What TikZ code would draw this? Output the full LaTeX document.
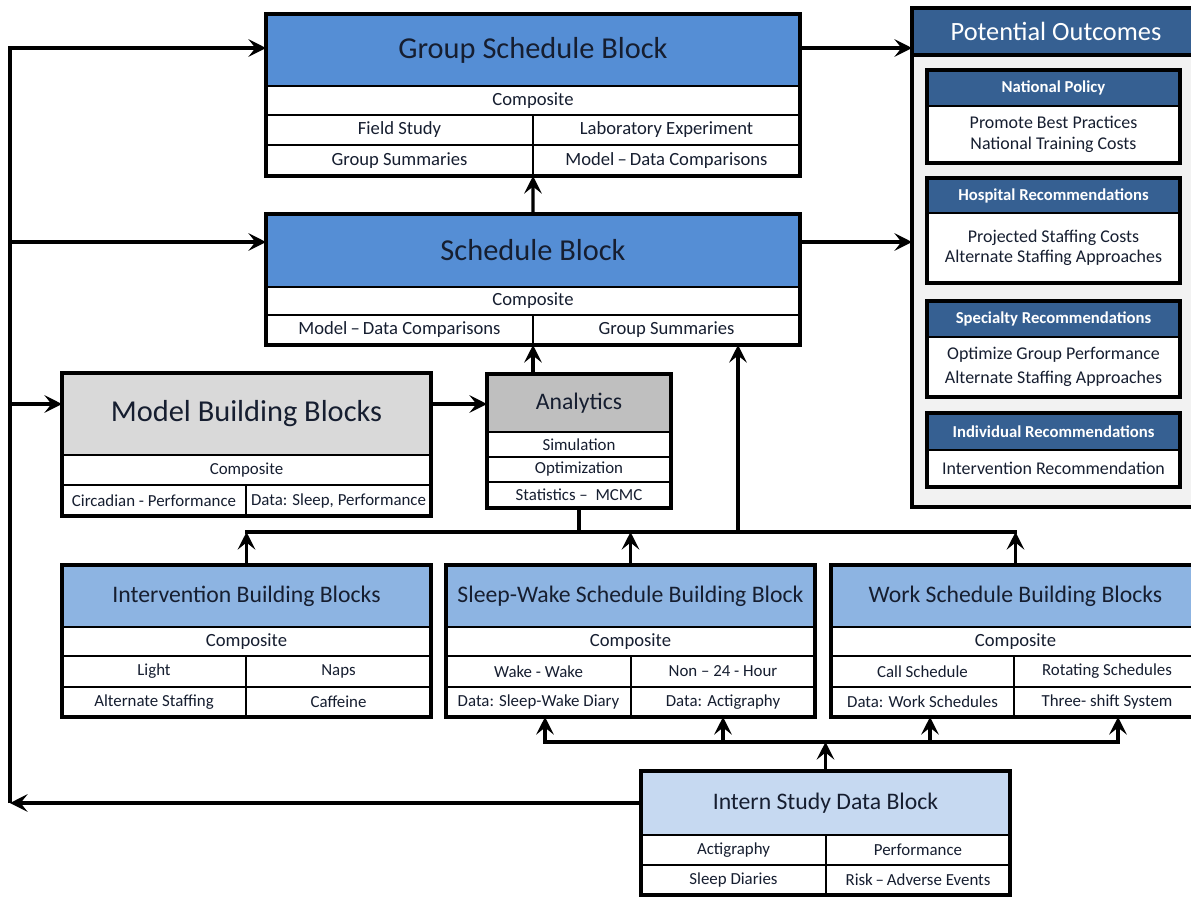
\documentclass[tikz,border=0pt]{standalone}
\usepackage{fontspec}
\setmainfont{Carlito}
\usetikzlibrary{arrows.meta}
\definecolor{blueA}{RGB}{85,142,213}
\definecolor{blueB}{RGB}{141,180,226}
\definecolor{blueC}{RGB}{198,217,241}
\definecolor{grayA}{RGB}{217,217,217}
\definecolor{grayB}{RGB}{191,191,191}
\definecolor{navy}{RGB}{54,96,146}
\definecolor{panel}{RGB}{242,242,242}
\definecolor{ink}{RGB}{22,30,48}
\newcommand{\mkcell}[7]{\node[cell,#6,minimum width={(#4-#2)*0.02cm},minimum height={(#5-#3)*0.02cm}] (#1) at ({(#2+#4)/2},{(#3+#5)/2}) {#7};}
\begin{document}
\begin{tikzpicture}[x=0.02cm,y=-0.02cm,
  cell/.style={draw=black,line width=1.4pt,inner sep=0pt,outer sep=0pt,fill=white,text=ink,align=center,font=\fontsize{10.6}{12}\selectfont},
  ttl/.style={font=\fontsize{17.3}{20}\selectfont},
  sub/.style={font=\fontsize{13.5}{16}\selectfont},
  sm/.style={font=\fontsize{9.6}{11}\selectfont},
  hd/.style={fill=navy,text=white,font=\bfseries\fontsize{9.5}{11}\selectfont},
  bd/.style={font=\fontsize{10.2}{11.6}\selectfont},
  frame/.style={draw=black,line width=2pt},
  ln/.style={line width=1.9pt},
  arr/.style={line width=1.9pt,-{Stealth[length=10pt,width=10pt,inset=4pt]}}]
\useasboundingbox (0,0) rectangle (1191,897);
\fill[white] (0,0) rectangle (1191,897);
\clip (0,0) rectangle (1191,897);
% Group Schedule Block
\mkcell{gsH}{266}{14}{800}{86}{fill=blueA,ttl}{Group Schedule Block}
\mkcell{gsC}{266}{86}{800}{115}{}{Composite}
\mkcell{gs1}{266}{115}{533}{145}{}{Field Study}
\mkcell{gs2}{533}{115}{800}{145}{}{Laboratory Experiment}
\mkcell{gs3}{266}{145}{533}{176}{}{Group Summaries}
\mkcell{gs4}{533}{145}{800}{176}{}{Model\,–\,Data Comparisons}
\draw[frame] (gsH.north west) rectangle (gs4.south east);
% Schedule Block
\mkcell{sH}{266}{214}{800}{287}{fill=blueA,ttl}{Schedule Block}
\mkcell{sC}{266}{287}{800}{315}{}{Composite}
\mkcell{s1}{266}{315}{533}{345}{}{Model\,–\,Data Comparisons}
\mkcell{s2}{533}{315}{800}{345}{}{Group Summaries}
\draw[frame] (sH.north west) rectangle (s2.south east);
% Model Building Blocks
\mkcell{mH}{62}{373}{431}{455}{fill=grayA,ttl}{Model Building Blocks}
\mkcell{mC}{62}{455}{431}{485}{sm}{Composite}
\mkcell{m1}{62}{485}{246}{516}{sm}{Circadian - Performance}
\mkcell{m2}{246}{485}{431}{516}{sm}{Data: Sleep, Performance}
\draw[frame] (mH.north west) rectangle (m2.south east);
% Analytics
\mkcell{aH}{487}{374}{671}{432}{fill=grayB,sub}{Analytics}
\mkcell{a1}{487}{432}{671}{457}{sm}{Simulation}
\mkcell{a2}{487}{457}{671}{482}{sm}{Optimization}
\mkcell{a3}{487}{482}{671}{508}{sm}{Statistics –\ \ MCMC}
\draw[frame] (aH.north west) rectangle (a3.south east);
% Intervention
\mkcell{iH}{62}{565}{431}{627}{fill=blueB,sub}{Intervention Building Blocks}
\mkcell{iC}{62}{627}{431}{656}{}{Composite}
\mkcell{i1}{62}{656}{246}{687}{sm}{Light}
\mkcell{i2}{246}{656}{431}{687}{sm}{Naps}
\mkcell{i3}{62}{687}{246}{717}{sm}{Alternate Staffing}
\mkcell{i4}{246}{687}{431}{717}{sm}{Caffeine}
\draw[frame] (iH.north west) rectangle (i4.south east);
% Sleep-Wake
\mkcell{wH}{446}{565}{815}{627}{fill=blueB,sub}{Sleep-Wake Schedule Building Block}
\mkcell{wC}{446}{627}{815}{656}{}{Composite}
\mkcell{w1}{446}{656}{631}{687}{sm}{Wake - Wake}
\mkcell{w2}{631}{656}{815}{687}{sm}{Non – 24 - Hour}
\mkcell{w3}{446}{687}{631}{717}{sm}{Data: Sleep-Wake Diary}
\mkcell{w4}{631}{687}{815}{717}{sm}{Data: Actigraphy}
\draw[frame] (wH.north west) rectangle (w4.south east);
% Work
\mkcell{kH}{831}{565}{1200}{627}{fill=blueB,sub}{Work Schedule Building Blocks}
\mkcell{kC}{831}{627}{1200}{656}{}{Composite}
\mkcell{k1}{831}{656}{1014}{687}{sm}{Call Schedule}
\mkcell{k2}{1014}{656}{1200}{687}{sm}{Rotating Schedules}
\mkcell{k3}{831}{687}{1014}{717}{sm}{Data: Work Schedules}
\mkcell{k4}{1014}{687}{1200}{717}{sm}{Three- shift System}
\draw[frame] (kH.north west) rectangle (k4.south east);
% Intern
\mkcell{dH}{641}{771}{1010}{835}{fill=blueC,sub}{Intern Study Data Block}
\mkcell{d1}{641}{835}{826}{865}{sm}{Actigraphy}
\mkcell{d2}{826}{835}{1010}{865}{sm}{Performance}
\mkcell{d3}{641}{865}{826}{895}{sm}{Sleep Diaries}
\mkcell{d4}{826}{865}{1010}{895}{sm}{Risk\,–\,Adverse Events}
\draw[frame] (dH.north west) rectangle (d4.south east);
% Potential Outcomes
\mkcell{pBox}{912}{8}{1200}{507}{fill=panel,line width=2pt}{}
\mkcell{pH}{912}{8}{1200}{55}{fill=navy,text=white,line width=2pt,font=\fontsize{15}{17}\selectfont}{Potential Outcomes}
\mkcell{npH}{927}{70}{1180}{106}{hd}{National Policy}
\mkcell{npB}{927}{106}{1180}{163}{bd}{Promote Best Practices\\National Training Costs}
\draw[frame] (npH.north west) rectangle (npB.south east);
\mkcell{hrH}{927}{178}{1180}{213}{hd}{Hospital Recommendations}
\mkcell{hrB}{927}{213}{1180}{283}{bd}{Projected Staffing Costs\\Alternate Staffing Approaches}
\draw[frame] (hrH.north west) rectangle (hrB.south east);
\mkcell{srH}{927}{301}{1180}{337}{hd}{Specialty Recommendations}
\mkcell{srB}{927}{337}{1180}{397}{bd,font=\fontsize{10.2}{14}\selectfont}{Optimize Group Performance\\Alternate Staffing Approaches}
\draw[frame] (srH.north west) rectangle (srB.south east);
\mkcell{irH}{927}{413}{1180}{450}{hd}{Individual Recommendations}
\mkcell{irB}{927}{450}{1180}{487}{bd}{Intervention Recommendation}
\draw[frame] (irH.north west) rectangle (irB.south east);
% left feedback bus
\coordinate (lt) at (10,48);
\coordinate (lb) at (10,803);
\coordinate (sA) at (10,242);
\coordinate (mA) at (10,404);
\draw[arr] (dH.west) -- (lb);
\draw[arr,line join=miter] (lb) -- (lt) -- (lt -| gsH.west);
\draw[arr] (sA) -- (sA -| sH.west);
\draw[arr] (mA) -- (mA -| mH.west);
\draw[arr] (mA -| mH.east) -- (mA -| aH.west);
\draw[arr] (lt -| gsH.east) -- (lt -| pBox.west);
\draw[arr] (sA -| sH.east) -- (sA -| pBox.west);
\draw[arr] (s1.south east |- aH.north) -- (s1.south east);
\draw[arr] (sH.north) -- (gs3.south east);
% middle bus
\coordinate (b1) at (iH.north |- 0,532);
\coordinate (b2) at (kH.north |- 0,532);
\coordinate (b3) at (738,532);
\draw[ln,line cap=rect] (b1) -- (b2);
\draw[ln] (a3.south) -- (a3.south |- b1);
\draw[arr] (iH.north) -- (b1);
\draw[arr] (wH.north) -- (wH.north |- b1);
\draw[arr] (kH.north) -- (b2);
\draw[arr] (b3) -- (b3 |- s2.south);
% lower bus
\coordinate (c1) at (545,742);
\coordinate (c3) at (930,742);
\coordinate (c4) at (1118,742);
\draw[ln,line cap=rect] (c1) -- (c4);
\draw[arr] (dH.north) -- (dH.north |- c1);
\draw[arr] (c1) -- (c1 |- w3.south);
\draw[arr] (w4.south |- c1) -- (w4.south);
\draw[arr] (c3) -- (c3 |- k3.south);
\draw[arr] (c4) -- (c4 |- k4.south);
\end{tikzpicture}
\end{document}
